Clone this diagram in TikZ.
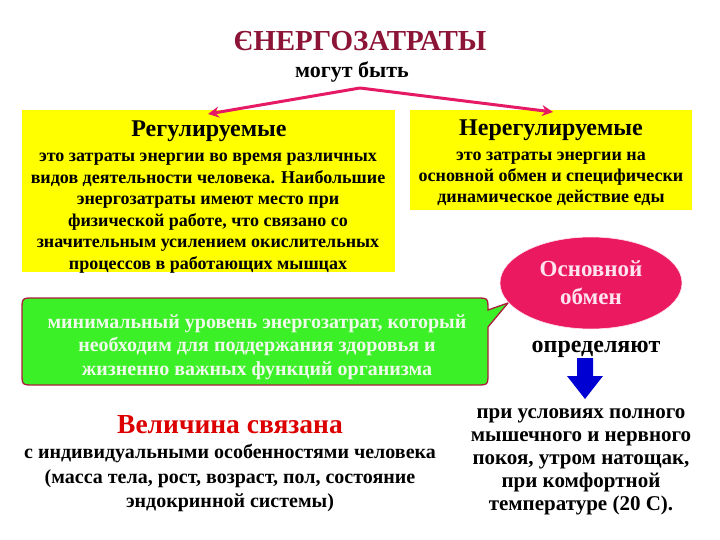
\documentclass[tikz,border=0pt]{standalone}
\usepackage{fontspec}
\setmainfont{Liberation Serif}
\usetikzlibrary{arrows.meta,shapes.geometric}
\definecolor{titlered}{RGB}{140,20,55}
\definecolor{arrowpink}{RGB}{230,25,100}
\definecolor{boxyellow}{RGB}{255,255,0}
\definecolor{callgreen}{RGB}{60,240,40}
\definecolor{callborder}{RGB}{170,30,60}
\definecolor{ellpink}{RGB}{235,25,95}
\definecolor{elltext}{RGB}{255,228,240}
\definecolor{calltext}{RGB}{240,250,235}
\definecolor{bluearrow}{RGB}{0,0,210}
\definecolor{velred}{RGB}{220,0,0}
\begin{document}
\begin{tikzpicture}[x=1pt,y=-1pt,
  every node/.style={inner sep=0pt, align=center},
  fs/.style 2 args={font=\bfseries\fontsize{#1}{#2}\selectfont},
  ybox/.style={fill=boxyellow, draw=none, rectangle},
  pinkarrow/.style={draw=arrowpink, line width=3pt, -{Stealth[length=11pt,width=11pt]}},
  callout/.style={fill=callgreen, draw=callborder, line width=1.3pt},
  bodytext/.style={fs={18}{21.5}, text=black}
]
\useasboundingbox (0,0) rectangle (720,540);

% title
\node[fs={29}{32}, text=titlered] (title) at (360,41) {ЄНЕРГОЗАТРАТЫ};
\node[fs={22}{24}] (mogut) at (352,72) {могут быть};

% arrows
\coordinate (apex) at (360,88);
\coordinate (ltip) at (208,114);
\coordinate (rtip) at (553,112);

% yellow boxes
\node[ybox, minimum width=373pt, minimum height=162pt] (lbox) at (208.5,191) {};
\node[ybox, minimum width=282pt, minimum height=100pt] (rbox) at (551,160) {};

\draw[pinkarrow] (apex) -- (ltip);
\draw[pinkarrow] (apex) -- (rtip);

\node[fs={24}{26}] (lhead) at (209,131) {Регулируемые};
\node[bodytext] (lbody) at (208,213) {это затраты энергии во время различных\\
видов деятельности человека. Наибольшие\\
энергозатраты имеют место при\\
физической работе, что связано со\\
значительным усилением окислительных\\
процессов в работающих мышцах};

\node[fs={24}{26}] (rhead) at (551,130) {Нерегулируемые};
\node[bodytext, fs={18}{21}] (rbody) at (551,179) {это затраты энергии на\\
основной обмен и специфически\\
динамическое действие еды};

% callout
\draw[callout] (34,298) -- (476,298) .. controls (488,298) .. (488,310)
  -- (508,303) -- (488,327) -- (488,373) .. controls (488,385) .. (476,385)
  -- (34,385) .. controls (22,385) .. (22,373) -- (22,310)
  .. controls (22,298) .. (34,298) -- cycle;
\node[fs={20}{23.5}, text=calltext] (calltxt) at (257,347) {минимальный уровень энергозатрат, который\\
необходим для поддержания здоровья и\\
жизненно важных функций организма};

% ellipse
\node[ellipse, fill=ellpink, draw=elltext, line width=0.6pt, minimum width=182pt, minimum height=92pt,
  fs={23}{28}, text=elltext] (osn) at (591,283) {Основной\\обмен};

\node[fs={24}{26}] (opr) at (596,349) {определяют};

% blue block arrow
\fill[bluearrow] (577,358) -- (593,358) -- (593,376) -- (603,376) -- (585,399)
  -- (567,376) -- (577,376) -- cycle;

% bottom left
\node[fs={27.5}{30}, text=velred] (vel) at (230,425) {Величина связана};
\node[fs={20}{24.5}] (velbody) at (230,478) {с индивидуальными особенностями человека\\
(масса тела, рост, возраст, пол, состояние\\
эндокринной системы)};

% bottom right
\node[fs={21}{23}] (usl) at (581,462) {при условиях полного\\
мышечного и нервного\\
покоя, утром натощак,\\
при комфортной\\
температуре (20 С).};
\end{tikzpicture}
\end{document}
